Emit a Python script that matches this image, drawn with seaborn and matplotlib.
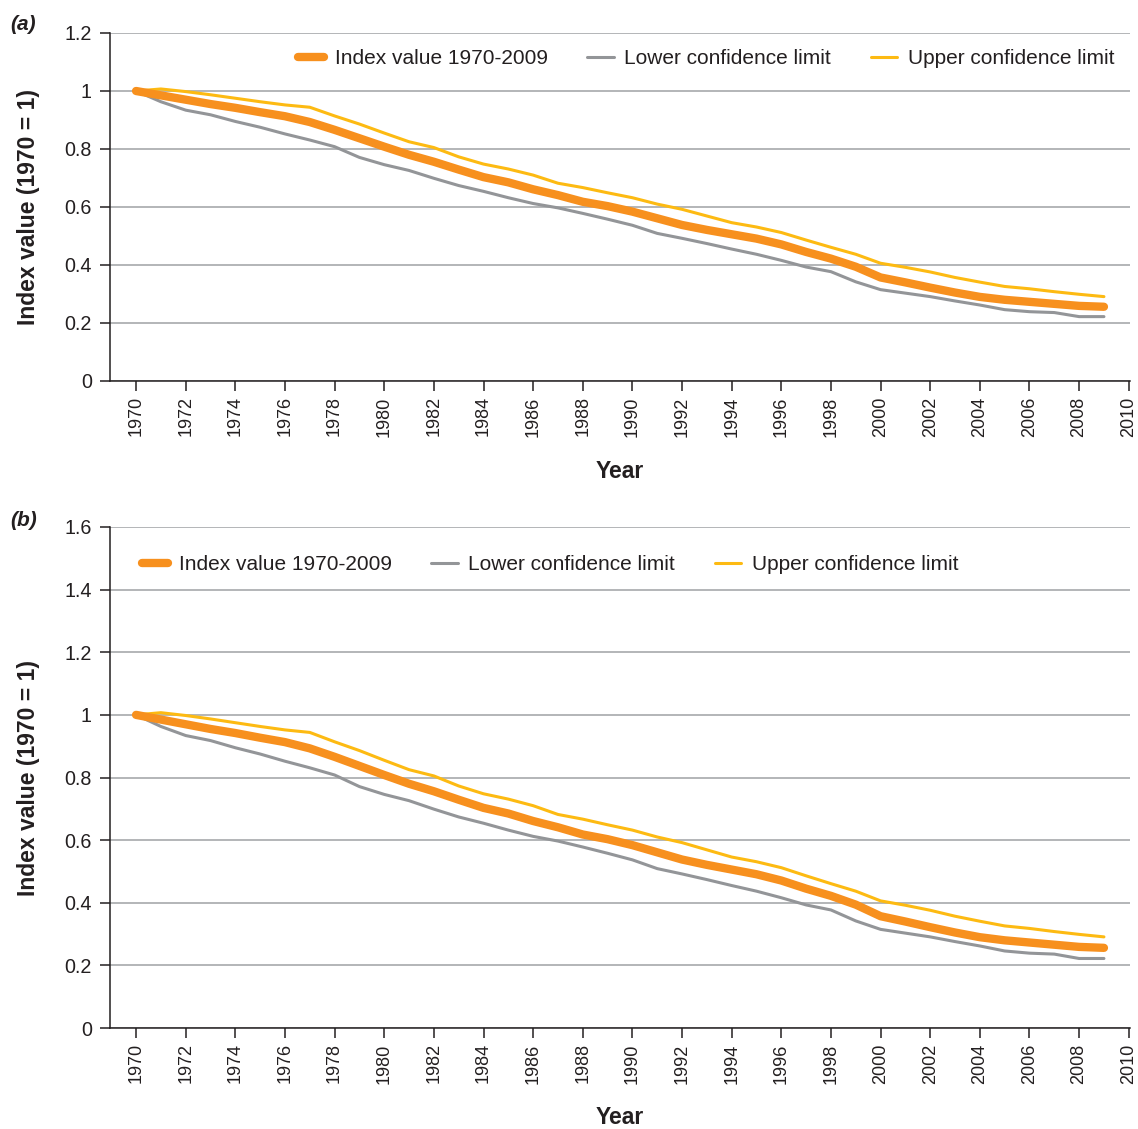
import pandas as pd
import matplotlib.pyplot as plt
import matplotlib.transforms as mtransforms
import seaborn as sns

# Index values (1970 = 1)
years = list(range(1970, 2010))
index_value = [1.000, 0.985, 0.970, 0.955, 0.942, 0.927, 0.913, 0.893, 0.866, 0.837,
               0.808, 0.780, 0.756, 0.729, 0.703, 0.685, 0.661, 0.641, 0.618, 0.603,
               0.584, 0.561, 0.538, 0.521, 0.506, 0.491, 0.471, 0.445, 0.422, 0.394,
               0.357, 0.340, 0.322, 0.305, 0.290, 0.280, 0.273, 0.266, 0.259, 0.256]
lower_limit = [1.000, 0.963, 0.934, 0.918, 0.895, 0.875, 0.852, 0.831, 0.808, 0.771,
               0.746, 0.726, 0.699, 0.674, 0.654, 0.632, 0.612, 0.597, 0.578, 0.558,
               0.537, 0.509, 0.492, 0.474, 0.455, 0.437, 0.416, 0.393, 0.377, 0.342,
               0.315, 0.303, 0.291, 0.276, 0.262, 0.246, 0.239, 0.236, 0.222, 0.222]
upper_limit = [1.000, 1.007, 0.998, 0.987, 0.975, 0.963, 0.952, 0.944, 0.914, 0.886,
               0.855, 0.825, 0.805, 0.773, 0.748, 0.731, 0.710, 0.682, 0.667, 0.649,
               0.632, 0.610, 0.592, 0.569, 0.546, 0.531, 0.512, 0.486, 0.461, 0.437,
               0.406, 0.392, 0.376, 0.357, 0.341, 0.326, 0.318, 0.308, 0.299, 0.291]

series_names = ['Index value 1970-2009', 'Lower confidence limit', 'Upper confidence limit']
colors = {'Index value 1970-2009': '#F7901E',
          'Lower confidence limit': '#939598',
          'Upper confidence limit': '#FDBA12'}
widths = {'Index value 1970-2009': 6.0,
          'Lower confidence limit': 2.2,
          'Upper confidence limit': 2.2}

df = pd.DataFrame({
    'Year': years * 3,
    'Value': index_value + lower_limit + upper_limit,
    'Series': [series_names[0]] * 40 + [series_names[1]] * 40 + [series_names[2]] * 40,
})

sns.set_style('white')
plt.rcParams['font.family'] = ['Liberation Sans', 'DejaVu Sans']
text_color = '#231F20'
plt.rcParams['text.color'] = text_color
plt.rcParams['axes.labelcolor'] = text_color
plt.rcParams['xtick.color'] = text_color
plt.rcParams['ytick.color'] = text_color

fig = plt.figure(figsize=(11.38, 11.29), dpi=100)
left, right = 110 / 1138, 1130 / 1138
ax_a = fig.add_axes([left, 1 - 381 / 1129, right - left, (381 - 33) / 1129])
ax_b = fig.add_axes([left, 1 - 1028 / 1129, right - left, (1028 - 527) / 1129])


def draw_panel(ax, ymax, legend_x, legend_y, tag, tag_y, year_y):
    # draw limits first, index on top
    for name in [series_names[2], series_names[1], series_names[0]]:
        sub = df[df['Series'] == name]
        sns.lineplot(data=sub, x='Year', y='Value', ax=ax, color=colors[name],
                     linewidth=widths[name], solid_capstyle='round',
                     legend=False, zorder=3 if name == series_names[0] else 2)
    ax.set_xlim(1968.95, 2010.05)
    ax.set_ylim(0, ymax)
    yticks = [round(0.2 * i, 1) for i in range(int(round(ymax / 0.2)) + 1)]
    ax.set_yticks(yticks)
    ax.set_yticklabels(['0' if t == 0 else ('1' if t == 1 else f'{t:g}') for t in yticks])
    ax.set_xticks(list(range(1970, 2011, 2)))
    ax.tick_params(axis='x', labelrotation=90, labelsize=13, length=7, width=1.1,
                   direction='out', bottom=True, pad=4)
    ax.tick_params(axis='y', labelsize=14.2, length=7, width=1.1, direction='out',
                   left=True, pad=6)
    ax.grid(axis='y', color='#A7A9AC', linewidth=1.2)
    ax.grid(axis='x', visible=False)
    ax.set_axisbelow(True)
    sns.despine(ax=ax, top=True, right=True)
    for side in ['left', 'bottom']:
        ax.spines[side].set_color(text_color)
        ax.spines[side].set_linewidth(1.1)
    ax.set_ylabel('Index value (1970 = 1)', fontsize=16.5, fontweight='bold',
                  va='center')
    ax.yaxis.set_label_coords(
        29 / 1138, 0.5,
        transform=mtransforms.blended_transform_factory(fig.transFigure, ax.transAxes))
    ax.set_xlabel('Year', fontsize=16.5, fontweight='bold')
    ax.xaxis.set_label_coords(620 / 1138, 1 - year_y / 1129, transform=fig.transFigure)
    ax.xaxis.label.set_va('center')

    handles = []
    for name in series_names:
        h, = ax.plot([], [], color=colors[name], linewidth=widths[name],
                     solid_capstyle='round', label=name)
        handles.append(h)
    ax.legend(handles=handles, loc='center left', ncol=3, frameon=False,
              bbox_to_anchor=(legend_x / 1138, 1 - legend_y / 1129),
              bbox_transform=fig.transFigure, fontsize=15, borderpad=0,
              borderaxespad=0, handlelength=1.27, handletextpad=0.5,
              columnspacing=1.9)
    fig.text(10 / 1138, 1 - tag_y / 1129, tag, fontsize=15, fontweight='bold',
             fontstyle='italic', va='center', ha='left')


draw_panel(ax_a, 1.2, 298, 59, '(a)', 25, 471)
draw_panel(ax_b, 1.6, 142, 565, '(b)', 520, 1118)

plt.savefig('out.png', dpi=100)
